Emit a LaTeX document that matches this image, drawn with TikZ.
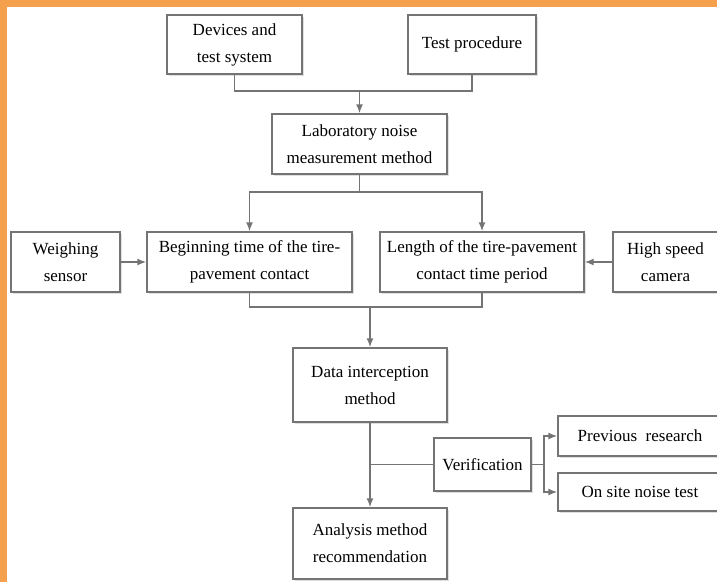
\documentclass[tikz,border=0pt]{standalone}
\usepackage{fontspec}
\setmainfont{Liberation Serif}
\usetikzlibrary{arrows.meta,
                shadows, % For the soft box shadows
               }
\definecolor{slideorange}{HTML}{F5A04C}
\definecolor{linegray}{HTML}{747474}
\tikzstyle{box} = [rectangle, draw=linegray, line width=1.4pt, fill=white, align=center, inner sep=2pt, font=\fontsize{17}{27}\selectfont, drop shadow={shadow xshift=2pt, shadow yshift=-2pt, opacity=0.25}]
\tikzstyle{edge} = [-{Latex[length=9pt, width=7pt]}, draw=linegray, line width=1.5pt]
\tikzstyle{link} = [draw=linegray, line width=1.5pt]

\begin{document}
\begin{tikzpicture}[x=1pt, y=-1pt]
  \useasboundingbox (0,0) rectangle (717,582);
  \clip (0,0) rectangle (717,582);
  \fill[slideorange] (0,0) rectangle (717,582);
  \fill[white] (7,7) rectangle (717,582);

  % inputs of the method
  \node (dev) [box, minimum width=135pt, minimum height=59pt] at (234.5,44.5) {Devices and\\test system};
  \node (proc) [box, minimum width=128pt, minimum height=59pt] at (472,44.5) {Test procedure};
  \node (lab) [box, minimum width=175pt, minimum height=60pt] at (359.5,144) {Laboratory noise\\measurement method};
  \coordinate (j1) at (359.5,91);
  \path [link] (dev.south) |- (j1) -| (proc.south);
  \path [edge] (j1) -- (lab.north);

  % contact time
  \node (weigh) [box, minimum width=109pt, minimum height=60pt] at (65.5,262) {Weighing\\sensor};
  \node (begin) [box, minimum width=205pt, minimum height=60pt] at (249.5,262) {Beginning time of the tire-\\pavement contact};
  \node (len) [box, minimum width=204pt, minimum height=60pt] at (482,262) {Length of the tire-pavement\\contact time period};
  \node (cam) [box, minimum width=105pt, minimum height=60pt] at (665.5,262) {High speed\\camera};
  \coordinate (j2) at (359.5,192);
  \path [link] (lab.south) -- (j2);
  \path [edge] (j2) -| (begin.north);
  \path [edge] (j2) -| (len.north);
  \path [edge] (weigh.east) -- (begin.west);
  \path [edge] (cam.west) -- (len.east);

  % data and analysis
  \node (data) [box, minimum width=154pt, minimum height=74pt] at (370,385) {Data interception\\method};
  \node (anal) [box, minimum width=154pt, minimum height=71pt] at (370,543.5) {Analysis method\\recommendation};
  \coordinate (j3) at (370,307);
  \path [link] (begin.south) |- (j3) -| (len.south);
  \path [edge] (j3) -- (data.north);
  \path [edge] (data.south) -- (anal.north);

  % verification
  \node (verif) [box, minimum width=97pt, minimum height=53pt] at (482.5,464.5) {Verification};
  \node (prev) [box, minimum width=164pt, minimum height=40pt] at (640,436) {Previous\ \ research};
  \node (site) [box, minimum width=164pt, minimum height=38pt] at (640,492) {On site noise test};
  \coordinate (j4) at (370,464.5);
  \coordinate (j5) at (544,464.5);
  \path [link] (verif.west) -- (j4);
  \path [link] (verif.east) -- (j5);
  \path [edge] (j5) |- (prev.west);
  \path [edge] (j5) |- (site.west);
\end{tikzpicture}
\end{document}
